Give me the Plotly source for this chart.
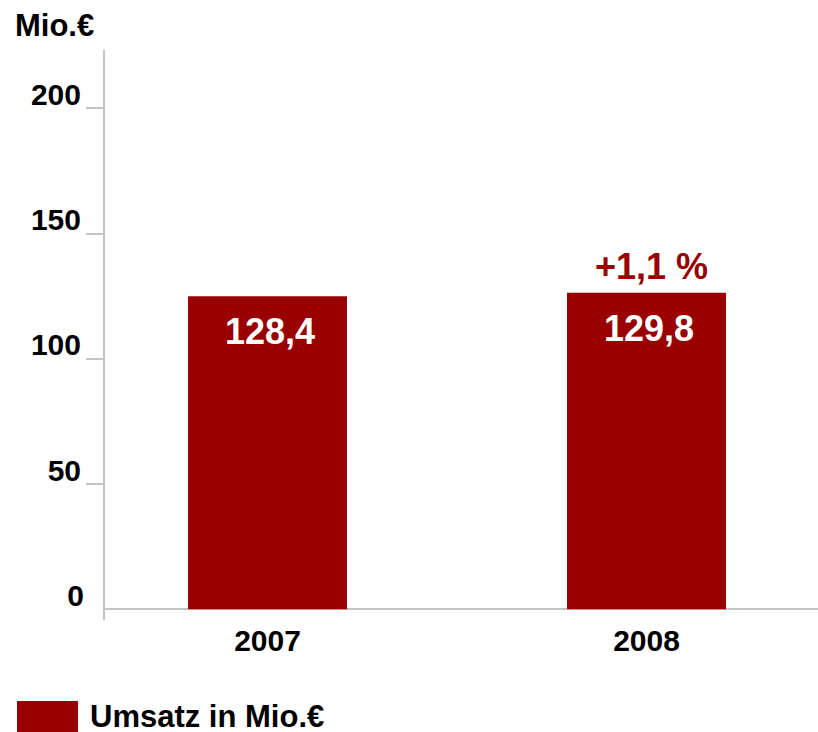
import plotly.graph_objects as go

categories = ["2007", "2008"]
bar_heights = [125.0, 126.4]          # heights as drawn in the reference
value_labels = ["128,4", "129,8"]
change_label = "+1,1 %"
y_tick_vals = [50, 100, 150, 200]
y_tick_text = ["50", "100", "150", "200"]
unit_label = "Mio.€"
series_name = "Umsatz in Mio.€"

RED = "#990000"
GRAY = "#c3c3c3"
FONT = "Liberation Sans, Arial, sans-serif"

fig = go.Figure()
fig.add_trace(go.Bar(
    x=[0, 1], y=bar_heights, width=0.4195,
    marker=dict(color=RED, line=dict(width=0)),
    name=series_name, showlegend=False, hoverinfo="skip",
))

for i, (h, lab) in enumerate(zip(bar_heights, value_labels)):
    fig.add_annotation(x=i, y=h, text=lab, showarrow=False,
                       yanchor="middle", yshift=-35.5, xshift=2,
                       font=dict(family=FONT, size=36, color="white", weight="bold"))
fig.add_annotation(x=1, y=bar_heights[1], text=change_label, showarrow=False,
                   yanchor="middle", yshift=26, xshift=5,
                   font=dict(family=FONT, size=36, color=RED, weight="bold"))

# unit label
fig.add_annotation(xref="paper", yref="paper", x=0, y=1, text=unit_label,
                   showarrow=False, xanchor="left", yanchor="middle",
                   xshift=-92, yshift=25,
                   font=dict(family=FONT, size=31, color="black", weight="bold"))

# legend (custom swatch + text)
fig.add_shape(type="rect", xref="paper", yref="paper",
              x0=(17 - 105) / 713, x1=(78 - 105) / 713,
              y0=-(701 - 620) / 570, y1=-(733 - 620) / 570,
              fillcolor=RED, line=dict(width=0))
fig.add_annotation(xref="paper", yref="paper", x=(89 - 105) / 713,
                   y=-(716 - 620) / 570, text=series_name, showarrow=False,
                   xanchor="left", yanchor="middle", borderpad=0,
                   font=dict(family=FONT, size=31, color="black", weight="bold"))

yrange = [-4.3, 223.3]
fig.update_layout(
    width=818, height=732,
    margin=dict(l=105, r=0, t=50, b=112),
    paper_bgcolor="white", plot_bgcolor="white",
    showlegend=False,
    xaxis=dict(range=[-0.4288, 1.4525], tickvals=[0, 1], ticktext=categories,
               showline=False, showgrid=False, zeroline=False, ticks="",
               tickfont=dict(family=FONT, size=30, color="black", weight="bold")),
    yaxis=dict(range=yrange, tickvals=y_tick_vals, ticktext=y_tick_text,
               showline=True, linecolor=GRAY, linewidth=2,
               ticks="outside", ticklen=17, tickwidth=2, tickcolor=GRAY,
               showgrid=False, zeroline=True, zerolinecolor=GRAY, zerolinewidth=2,
               ticklabelshift=-14, ticklabelstandoff=-1,
               tickfont=dict(family=FONT, size=30, color="black", weight="bold")),
    yaxis2=dict(range=yrange, overlaying="y", side="left", tickvals=[0], ticktext=["0"],
                showline=False, ticks="", showgrid=False, zeroline=False,
                ticklabelshift=-14, ticklabelstandoff=20,
                tickfont=dict(family=FONT, size=30, color="black", weight="bold")),
)
fig.add_trace(go.Scatter(x=[None], y=[None], yaxis="y2", showlegend=False, hoverinfo="skip"))

fig.write_html("out.html", config={"displayModeBar": False},
               post_script="document.body.style.margin='0px';document.body.style.overflow='hidden';")
